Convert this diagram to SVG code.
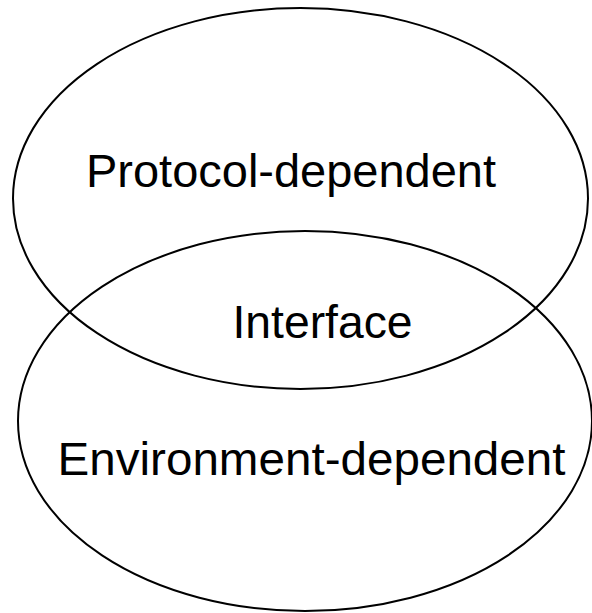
<svg xmlns="http://www.w3.org/2000/svg" width="592" height="613" viewBox="0 0 592 613">
<style>
.e{fill:none;stroke:#000;stroke-width:2}
.t{font-family:"Liberation Sans",Arial,sans-serif;font-size:46px;fill:#000;text-anchor:middle}
</style>
<rect width="592" height="613" fill="#fff"/>
<g id="protocol">
<ellipse class="e" cx="300.5" cy="198.5" rx="287.5" ry="190.5"/>
<text class="t" x="291" y="187" textLength="410" lengthAdjust="spacingAndGlyphs">Protocol-dependent</text>
</g>
<g id="environment">
<ellipse class="e" cx="305" cy="421" rx="287" ry="190"/>
<text class="t" x="311.5" y="475" textLength="508" lengthAdjust="spacingAndGlyphs">Environment-dependent</text>
</g>
<g id="interface">
<text class="t" x="322.5" y="338" textLength="180" lengthAdjust="spacingAndGlyphs">Interface</text>
</g>
<g id="connectors"></g>
</svg>
